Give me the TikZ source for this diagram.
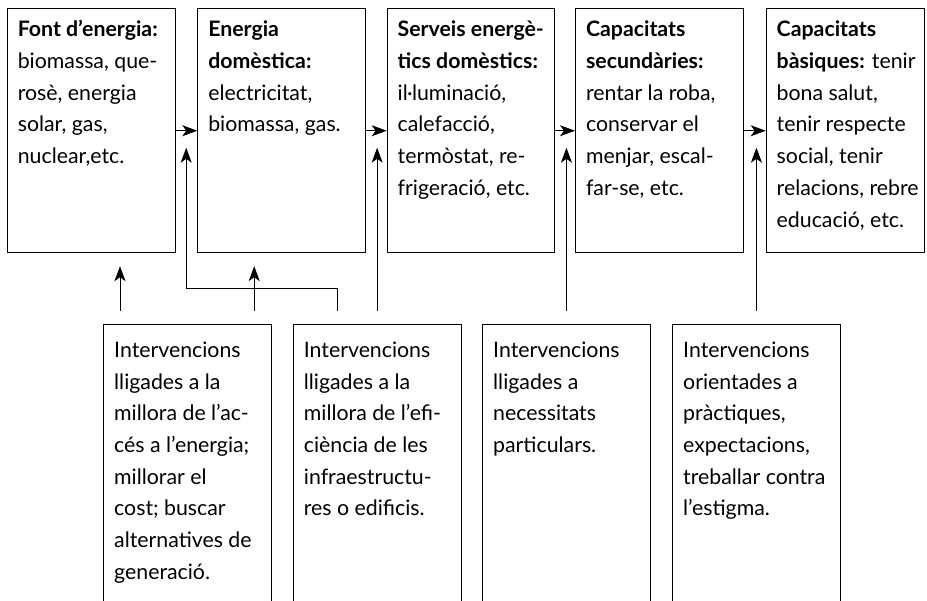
\documentclass[tikz,border=0pt]{standalone}
\usepackage{fontspec}
\setmainfont{Lato}
\usetikzlibrary{arrows.meta}

\tikzset{
  etapa/.style={draw, line width=0.9pt, anchor=north west, inner sep=0pt,
    minimum width=168pt, minimum height=244pt},
  interv/.style={draw, line width=0.9pt, anchor=north west, inner sep=0pt,
    minimum width=168pt, minimum height=300pt},
  lletra/.style={anchor=north west, inner sep=0pt, align=left,
    font=\fontsize{21.3}{31.7}\selectfont},
  fletxa/.style={line width=0.9pt, -{Stealth[length=15pt, width=11pt, inset=4pt]}}
}

\begin{document}
\begin{tikzpicture}[x=1pt, y=1pt]
        \useasboundingbox (0,0) rectangle (927,-601);
        \clip (0,0) rectangle (927,-601);

        % fila de dalt
        \node[etapa] (e1) at (7.3,-8.3) {};
        \node[etapa] (e2) at (197.3,-8.3) {};
        \node[etapa, minimum width=167pt] (e3) at (386.7,-8.3) {};
        \node[etapa] (e4) at (575,-8.3) {};
        \node[etapa, minimum width=158.6pt] (e5) at (765.7,-8.3) {};

        \node[lletra] (t1) at ([shift={(10.3,-6.2)}]e1.north west)
          {\strut\textbf{Font d’energia:}\\ biomassa, que-\\ rosè, energia\\ solar, gas,\\ nuclear,etc.};
        \node[lletra] (t2) at ([shift={(10.8,-6.2)}]e2.north west)
          {\strut\textbf{Energia}\\ \textbf{domèstica:}\\ electricitat,\\ biomassa, gas.};
        \node[lletra] (t3) at ([shift={(10.8,-6.2)}]e3.north west)
          {\strut\textbf{Serveis energè-}\\ \textbf{tics domèstics:}\\ il·luminació,\\ calefacció,\\ termòstat, re-\\ frigeració, etc.};
        \node[lletra] (t4) at ([shift={(10.8,-6.2)}]e4.north west)
          {\strut\textbf{Capacitats}\\ \textbf{secundàries:}\\ rentar la roba,\\ conservar el\\ menjar, escal-\\ far-se, etc.};
        \node[lletra] (t5) at ([shift={(10.8,-6.2)}]e5.north west)
          {\strut\textbf{Capacitats}\\ \textbf{bàsiques:} tenir\\ bona salut,\\ tenir respecte\\ social, tenir\\ relacions, rebre\\ educació, etc.};

        \foreach \a/\b in {e1/e2, e2/e3, e3/e4, e4/e5} {
          \draw[fletxa] (\a.east) -- (\b.west);
        };

        % fila de baix
        \node[interv] (iA) at (103,-324.3) {};
        \node[interv] (iB) at (292.7,-324.3) {};
        \node[interv] (iC) at (482,-324.3) {};
        \node[interv] (iD) at (672,-324.3) {};

        \node[lletra] (u1) at ([shift={(11,-10.8)}]iA.north west)
          {\strut Intervencions\\ lligades a la\\ millora de l’ac-\\ cés a l’energia;\\ millorar el\\ cost; buscar\\ alternatives de\\ generació.};
        \node[lletra] (u2) at ([shift={(11,-10.8)}]iB.north west)
          {\strut Intervencions\\ lligades a la\\ millora de l’efi-\\ ciència de les\\ infraestructu-\\ res o edificis.};
        \node[lletra] (u3) at ([shift={(11,-10.8)}]iC.north west)
          {\strut Intervencions\\ lligades a\\ necessitats\\ particulars.};
        \node[lletra] (u4) at ([shift={(11,-10.8)}]iD.north west)
          {\strut Intervencions\\ orientades a\\ pràctiques,\\ expectacions,\\ treballar contra\\ l’estigma.};

        \coordinate (pA1) at ([xshift=17pt, yshift=13pt]iA.north west);
        \coordinate (pA2) at ([xshift=-17.7pt, yshift=13pt]iA.north east);
        \coordinate (pB1) at ([xshift=45pt, yshift=13pt]iB.north west);
        \coordinate (pB2) at ([yshift=13pt]iB.north);
        \coordinate (pC) at ([yshift=13pt]iC.north);
        \coordinate (pD) at ([yshift=13pt]iD.north);

        \draw[fletxa, shorten >=13pt] (pA1) -- (pA1 |- e1.south);
        \draw[fletxa, shorten >=13pt] (pA2) -- (pA2 |- e2.south);
        \draw[fletxa, shorten >=17pt] (pB1) |- ([xshift=10pt, yshift=-35.4pt]e1.south east)
          -- ([xshift=10pt]e1.east);
        \draw[fletxa, shorten >=17pt] (pB2) -- (pB2 |- e2.east);
        \draw[fletxa, shorten >=17pt] (pC) -- (pC |- e3.east);
        \draw[fletxa, shorten >=17pt] (pD) -- (pD |- e4.east);
      \end{tikzpicture}
\end{document}
